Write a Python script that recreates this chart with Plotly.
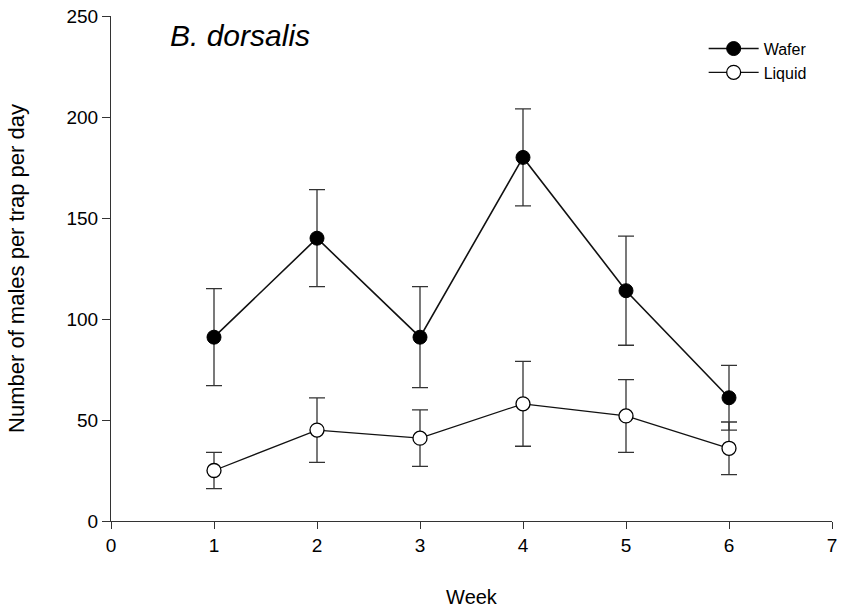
import plotly.graph_objects as go

weeks = [1, 2, 3, 4, 5, 6]
wafer = [91, 140, 91, 180, 114, 61]
wafer_err = [24, 24, 25, 24, 27, 16]
liquid = [25, 45, 41, 58, 52, 36]
liquid_err = [9, 16, 14, 21, 18, 13]
x_ticks = [0, 1, 2, 3, 4, 5, 6, 7]
y_ticks = [0, 50, 100, 150, 200, 250]

FONT = "Arial, Liberation Sans, sans-serif"

fig = go.Figure()
fig.add_trace(go.Scatter(
    x=weeks, y=wafer, name="Wafer", mode="lines+markers",
    line=dict(color="#111111", width=1.6),
    marker=dict(symbol="circle", size=14, color="black", line=dict(color="black", width=1)),
    error_y=dict(type="data", array=wafer_err, visible=True, color="#333333", thickness=1.3, width=8),
))
fig.add_trace(go.Scatter(
    x=weeks, y=liquid, name="Liquid", mode="lines+markers",
    line=dict(color="#111111", width=1.3),
    marker=dict(symbol="circle", size=14, color="white", line=dict(color="black", width=1.3)),
    error_y=dict(type="data", array=liquid_err, visible=True, color="#333333", thickness=1.3, width=8),
))

fig.add_annotation(
    text="<i>B. dorsalis</i>", xref="paper", yref="paper",
    x=0.079, y=0.962, xanchor="left", yanchor="middle", showarrow=False,
    font=dict(family=FONT, size=30, color="black"),
)

fig.update_layout(
    width=841, height=612,
    margin=dict(l=111, r=9, t=16, b=91),
    paper_bgcolor="white", plot_bgcolor="white",
    font=dict(family=FONT, size=18, color="black"),
    showlegend=True,
    legend=dict(x=0.822, y=0.969, xanchor="left", yanchor="top", itemwidth=50,
                bgcolor="rgba(0,0,0,0)", font=dict(size=16), tracegroupgap=0),
    xaxis=dict(range=[0, 7], tickvals=x_ticks, showline=True, linecolor="#333333", linewidth=1.2,
               ticks="outside", ticklen=7, tickcolor="#333333", showgrid=False, zeroline=False,
               automargin=False, tickfont=dict(size=19),
               title=dict(text="Week", font=dict(size=20), standoff=35)),
    yaxis=dict(range=[0, 250], tickvals=y_ticks, showline=True, linecolor="#333333", linewidth=1.2,
               ticks="outside", ticklen=8, tickcolor="#333333", showgrid=False, zeroline=False,
               automargin=False, tickfont=dict(size=19),
               title=dict(text="Number of males per trap per day", font=dict(size=22), standoff=35)),
)

# remove the default 8px page margin so the figure fills the window exactly
fig.write_html("out.html", config={"displayModeBar": False},
               post_script="document.body.style.margin='0px';")
